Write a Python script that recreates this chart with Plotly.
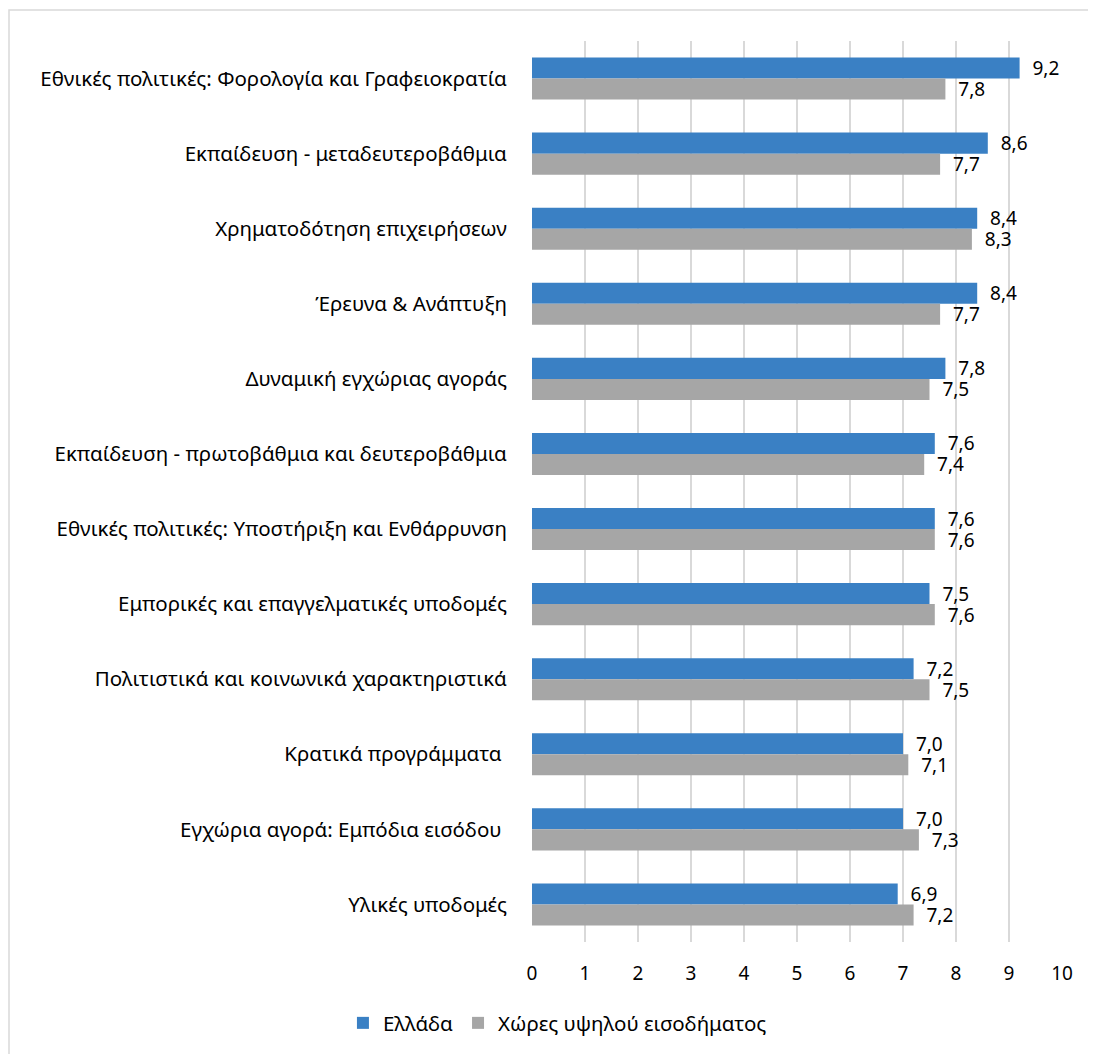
import plotly.graph_objects as go

categories = [
    "Εθνικές πολιτικές: Φορολογία και Γραφειοκρατία",
    "Εκπαίδευση - μεταδευτεροβάθμια",
    "Χρηματοδότηση επιχειρήσεων",
    "Έρευνα & Ανάπτυξη",
    "Δυναμική εγχώριας αγοράς",
    "Εκπαίδευση - πρωτοβάθμια και δευτεροβάθμια",
    "Εθνικές πολιτικές: Υποστήριξη και Ενθάρρυνση",
    "Εμπορικές και επαγγελματικές υποδομές",
    "Πολιτιστικά και κοινωνικά χαρακτηριστικά",
    "Κρατικά προγράμματα ",
    "Εγχώρια αγορά: Εμπόδια εισόδου ",
    "Υλικές υποδομές",
]
greece = [9.2, 8.6, 8.4, 8.4, 7.8, 7.6, 7.6, 7.5, 7.2, 7.0, 7.0, 6.9]
high_income = [7.8, 7.7, 8.3, 7.7, 7.5, 7.4, 7.6, 7.6, 7.5, 7.1, 7.3, 7.2]
series_names = ["Ελλάδα", "Χώρες υψηλού εισοδήματος"]
x_ticks = list(range(0, 11))

FONT = "Noto Sans"

def fmt(v):
    return "  " + f"{v:.1f}".replace(".", ",")

fig = go.Figure()
fig.add_trace(go.Bar(
    y=categories, x=greece, orientation="h", name=series_names[0],
    marker=dict(color="#3a80c4", line=dict(width=0)),
    text=[fmt(v) for v in greece], textposition="outside",
    constraintext="none",
    textfont=dict(size=19, color="#000000", family=FONT),
    cliponaxis=False,
))
fig.add_trace(go.Bar(
    y=categories, x=high_income, orientation="h", name=series_names[1],
    marker=dict(color="#a6a6a6", line=dict(width=0)),
    text=[fmt(v) for v in high_income], textposition="outside",
    constraintext="none",
    textfont=dict(size=19, color="#000000", family=FONT),
    cliponaxis=False,
))

# figure sits inside the page with an 8 px body margin
W, H = 1088, 1046
L, R, T, B = 524, 1054, 33, 934

def px_to_paper_x(px):
    return (px - L) / (R - L)

def px_to_paper_y(py):
    return (B - py) / (B - T)

fig.update_layout(
    width=W, height=H,
    margin=dict(l=L, r=W - R, t=T, b=H - B, autoexpand=False),
    paper_bgcolor="white", plot_bgcolor="white",
    barmode="group", bargap=0.44, bargroupgap=0.0,
    font=dict(family=FONT, size=20, color="#000000"),
    xaxis=dict(
        range=[0, 10], tickvals=x_ticks, ticktext=[str(t) for t in x_ticks],
        showgrid=True, gridcolor="#d9d9d9", gridwidth=1.5,
        zeroline=False, showline=False,
        ticks="outside", ticklen=14, tickcolor="rgba(0,0,0,0)",
        tickfont=dict(size=19, family=FONT),
    ),
    yaxis=dict(
        autorange="reversed", showgrid=False, zeroline=False, showline=False,
        ticks="outside", ticklen=20, tickcolor="rgba(0,0,0,0)",
        tickfont=dict(size=20.5, family=FONT),
    ),
    legend=dict(
        orientation="h", xref="container", yref="container",
        x=0.505, y=0.0296, xanchor="center", yanchor="middle",
        font=dict(size=20.5, family=FONT), traceorder="normal",
        itemwidth=30,
    ),
    shapes=[dict(
        type="rect", xref="paper", yref="paper",
        x0=px_to_paper_x(1), x1=px_to_paper_x(1120),
        y0=px_to_paper_y(1080), y1=px_to_paper_y(2),
        line=dict(color="#d9d9d9", width=1.5), fillcolor="rgba(0,0,0,0)",
        layer="below",
    )],
)

fig.write_html("out.html")
